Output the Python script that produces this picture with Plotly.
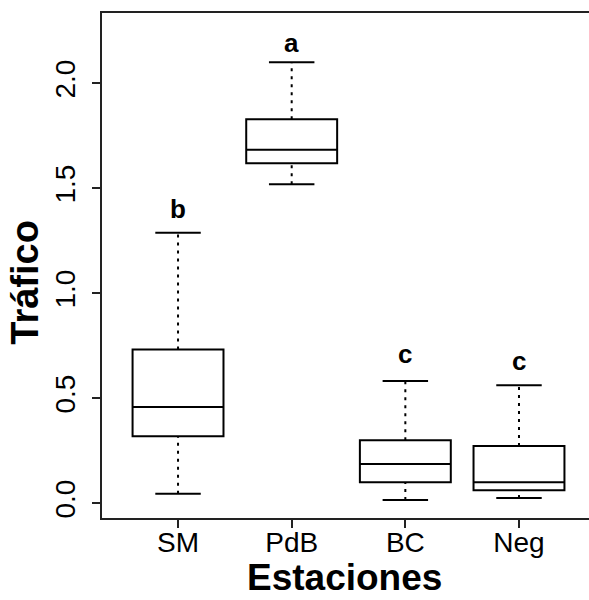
import plotly.graph_objects as go

categories = ["SM", "PdB", "BC", "Neg"]
lower = [0.046, 1.519, 0.016, 0.025]
q1 = [0.319, 1.619, 0.100, 0.062]
median = [0.459, 1.684, 0.187, 0.100]
q3 = [0.733, 1.829, 0.300, 0.273]
upper = [1.289, 2.101, 0.582, 0.562]
letters = ["b", "a", "c", "c"]
letter_y = [1.40, 2.19, 0.71, 0.68]
y_ticks = [0.0, 0.5, 1.0, 1.5, 2.0]
y_ticktext = ["0.0", "0.5", "1.0", "1.5", "2.0"]

FONT = "Liberation Sans, Arial, sans-serif"
pos = list(range(1, len(categories) + 1))
BOXW = 0.8
CAPW = 0.4

fig = go.Figure()

# whiskers (dashed) and caps (solid)
for i, p in enumerate(pos):
    for a, b in ((q3[i], upper[i]), (lower[i], q1[i])):
        fig.add_trace(go.Scatter(x=[p, p], y=[a, b], mode="lines",
                                 line=dict(color="black", width=2, dash="3px,5px"),
                                 hoverinfo="skip", showlegend=False))
    for v in (upper[i], lower[i]):
        fig.add_trace(go.Scatter(x=[p - CAPW / 2, p + CAPW / 2], y=[v, v], mode="lines",
                                 line=dict(color="black", width=2),
                                 hoverinfo="skip", showlegend=False))

fig.add_trace(go.Box(
    x=pos, q1=q1, median=median, q3=q3, lowerfence=q1, upperfence=q3,
    width=BOXW, whiskerwidth=0, fillcolor="white",
    line=dict(color="black", width=2), showlegend=False, boxpoints=False,
))

for i, p in enumerate(pos):
    fig.add_annotation(x=p, y=letter_y[i], text="<b>%s</b>" % letters[i], showarrow=False,
                       font=dict(family=FONT, size=26, color="black"),
                       xanchor="center", yanchor="middle")

fig.add_annotation(xref="paper", yref="paper", x=-0.158, y=0.466, text="<b>Tráfico</b>",
                   textangle=-90, showarrow=False, xanchor="center", yanchor="middle",
                   font=dict(family=FONT, size=38, color="black"))
fig.add_annotation(xref="paper", yref="paper", x=0.497, y=-0.118, text="<b>Estaciones</b>",
                   showarrow=False, xanchor="center", yanchor="middle",
                   font=dict(family=FONT, size=37, color="black"))

fig.update_layout(
    width=589, height=600,
    margin=dict(l=102, r=0, t=13, b=82),
    plot_bgcolor="white", paper_bgcolor="white",
    font=dict(family=FONT, color="black"),
)
fig.update_xaxes(range=[0.331, 4.616], tickvals=pos, ticktext=categories, automargin=False,
                 showgrid=False, zeroline=False, showline=True, mirror=True,
                 linecolor="#222", linewidth=2, ticks="outside", ticklen=8,
                 tickwidth=2, tickcolor="#222", ticklabelstandoff=-10,
                 tickfont=dict(size=28, family=FONT, color="black"))
fig.update_yaxes(range=[-0.070, 2.335], tickvals=y_ticks, ticktext=y_ticktext, tickangle=-90,
                 automargin=False,
                 showgrid=False, zeroline=False, showline=True, mirror=False,
                 linecolor="#222", linewidth=2, ticks="outside", ticklen=8,
                 tickwidth=2, tickcolor="#222", ticklabelstandoff=6,
                 tickfont=dict(size=28, family=FONT, color="black"))

fig.write_html("out.html", config={"displayModeBar": False},
               post_script="document.body.style.margin='0';document.body.style.overflow='hidden';")
